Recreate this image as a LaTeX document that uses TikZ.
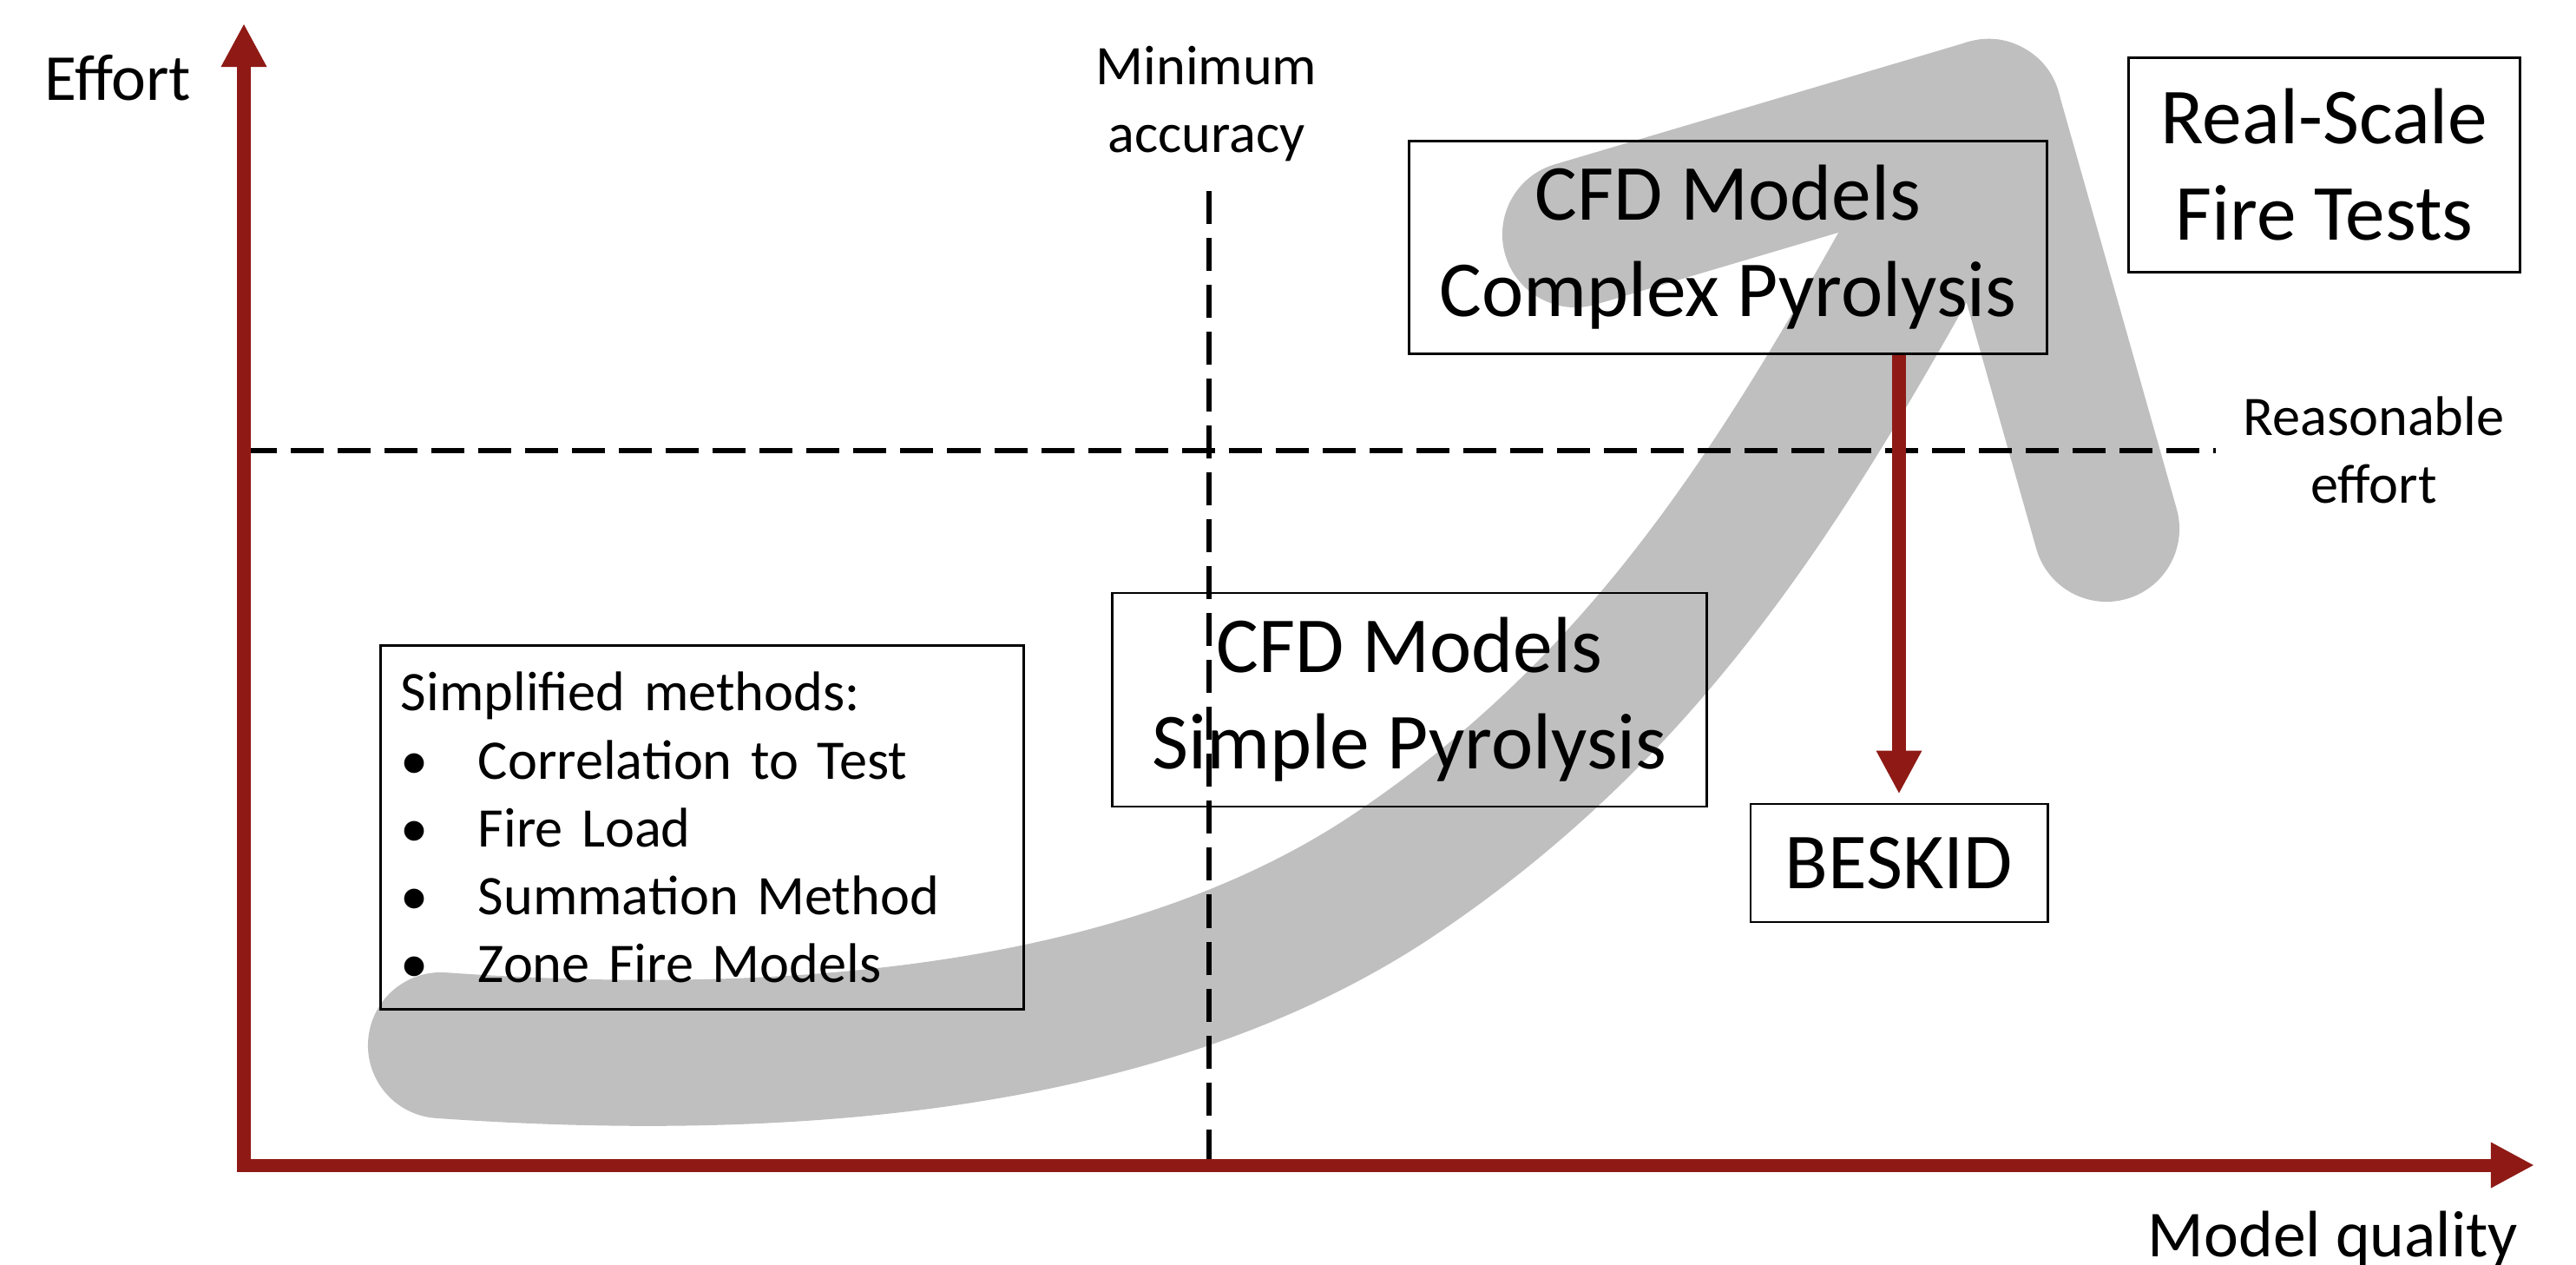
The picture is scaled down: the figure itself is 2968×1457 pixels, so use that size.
\documentclass[tikz,border=0pt]{standalone}
\usepackage{fontspec}
\setmainfont{Carlito}
\usetikzlibrary{arrows.meta}
\definecolor{axisred}{RGB}{143,26,21}
\definecolor{flowgrey}{RGB}{191,191,191}
\newcommand{\bigtxt}{\fontsize{26pt}{31.6pt}\selectfont}
\newcommand{\smalltxt}{\fontsize{18.3pt}{22.2pt}\selectfont}
\newcommand{\axistxt}{\fontsize{21.5pt}{26pt}\selectfont}

\begin{document}
\begin{tikzpicture}[x=0.01cm,y=-0.01cm,
    axis/.style={draw=axisred,line width=0.15cm,
      {Triangle[length=0.5cm,width=0.49cm]}-{Triangle[length=0.5cm,width=0.49cm]}},
    down/.style={draw=axisred,line width=0.16cm,-{Triangle[length=0.5cm,width=0.49cm]}},
    guide/.style={draw,line width=0.065cm,dash pattern=on 0.38cm off 0.16cm},
    flow/.style={draw=flowgrey,line width=1.68cm,line cap=round,line join=round},
    box/.style={draw,line width=0.8pt,inner sep=0pt,align=center,font=\bigtxt}]
  \useasboundingbox (0,0) rectangle (2968,1457);
  \coordinate (o)    at (281,1342);
  \coordinate (ytop) at (281,27);
  \coordinate (xend) at (2920,1342);
  \coordinate (acc)  at (1393,220);
  \coordinate (eff)  at (2553,519);
  \coordinate (tip)  at (2291,129);

  \draw[flow] (508,1204) .. controls (850,1228) and (1300,1215) .. (1610,1005)
                         .. controls (1942,781) and (2098,479) .. (tip);
  \draw[flow] (1815,270) -- (tip) -- (2427,609);

  \draw[guide] (acc) -- (acc |- o);
  \draw[guide] (o |- eff) -- (eff);
  \draw[axis] (ytop) |- (xend);

  \node(effort)  [font=\axistxt,anchor=base] at (136,115)  {Effort};
  \node(quality) [font=\axistxt,anchor=base] at (2688,1447) {Model quality};
  \node(minacc)  [font=\smalltxt,align=center] at (1390,120) {Minimum\\accuracy};
  \node(reason)  [font=\smalltxt,align=center] at (2735,518) {Reasonable\\effort};

  \node(methods)    [box,font=\smalltxt,align=left,text width=6.94cm,inner xsep=0.23cm,
                     minimum height=4.19cm] at (809,953)
    {Simplified methods:\\
     \makebox[0.89cm][l]{\textbullet}Correlation to Test\\
     \makebox[0.89cm][l]{\textbullet}Fire Load\\
     \makebox[0.89cm][l]{\textbullet}Summation Method\\
     \makebox[0.89cm][l]{\textbullet}Zone Fire Models};
  \node(cfdsimple)  [box,minimum width=6.85cm,minimum height=2.46cm] at (1624,806)
    {CFD Models\\Simple Pyrolysis};
  \node(cfdcomplex) [box,minimum width=7.35cm,minimum height=2.45cm] at (1991,285)
    {CFD Models\\Complex Pyrolysis};
  \node(realscale)  [box,minimum width=4.50cm,minimum height=2.47cm] at (2678,190)
    {Real-Scale\\Fire Tests};
  \node(beskid)     [box,minimum width=3.42cm,minimum height=1.36cm] at (2188,994)
    {BESKID};

  \draw[down,shorten >=0.1cm] (cfdcomplex.south -| beskid.north) -- (beskid.north);
\end{tikzpicture}
\end{document}
